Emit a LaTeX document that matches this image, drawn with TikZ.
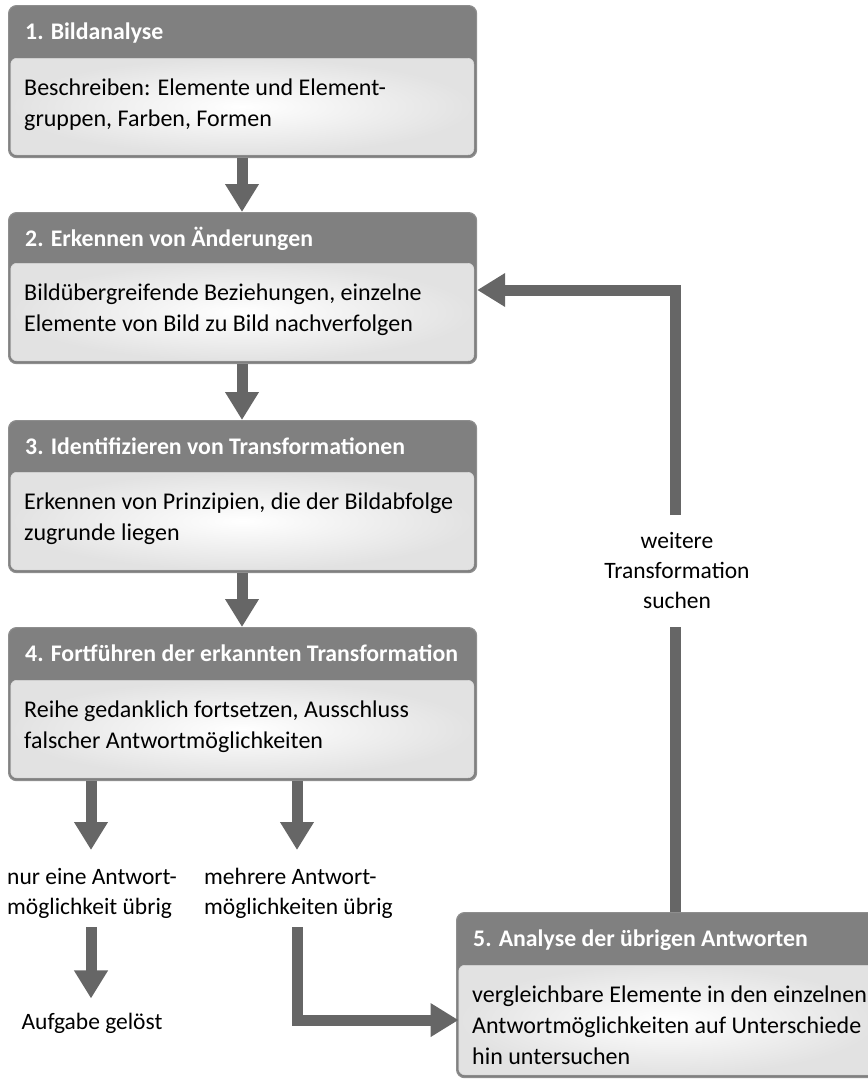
\documentclass[tikz,border=0pt]{standalone}
\usepackage{fontspec}
\setmainfont{Carlito}
\usetikzlibrary{arrows.meta,calc}
\definecolor{hdr}{HTML}{808080}
\definecolor{brd}{HTML}{8E8E8E}
\definecolor{arr}{HTML}{666666}
\definecolor{bodyout}{HTML}{E2E2E2}
\tikzset{
  outerbox/.style={draw=brd, fill=hdr, rounded corners=8pt, line width=1.2pt, inner sep=0pt, anchor=north west},
  bodybox/.style={rounded corners=6pt, inner color=white, outer color=bodyout, draw=white!85!black, line width=0.6pt, inner sep=0pt, anchor=north west},
  titletext/.style={anchor=base west, text=white, font=\fontsize{23.8}{28}\selectfont\bfseries, inner sep=0pt},
  bodytext/.style={anchor=base west, align=left, font=\fontsize{24}{31}\selectfont, inner sep=0pt},
  conn/.style={draw=arr, line width=11pt, -{Triangle[width=32pt,length=28pt]}},
  connline/.style={draw=arr, line width=11pt},
  labeltext/.style={font=\fontsize{23.5}{30}\selectfont, inner sep=0pt}
}
% #1 name, #2 x1, #3 y1, #4 x2, #5 y2, #6 divider y, #7 title, #8 body, #9 number of body lines minus one
\newcommand\mkbox[9]{%
  \node[outerbox, minimum width={(#4-#2)*1pt}, minimum height={(#5-#3)*1pt}] (#1) at (#2,#3) {};
  \node[bodybox, minimum width={(#4-#2-5)*1pt}, minimum height={(#5-#6-2.5)*1pt}] (#1b) at (#2+2.5,#6) {};
  \node[titletext] (#1t) at (#2+17,#3+34) {#7};
  \node[bodytext] (#1x) at (#2+16,#6+37+31*#9) {#8};
}
\begin{document}
\begin{tikzpicture}[x=1pt,y=-1pt]
\useasboundingbox (0,0) rectangle (868,1080);
\clip (0,0) rectangle (868,1080);
\mkbox{b1}{8}{5}{476}{157}{58}{1. Bildanalyse}{Beschreiben: Elemente und Element-\\gruppen, Farben, Formen}{1}
\mkbox{b2}{8}{212}{476}{363}{263}{2. Erkennen von Änderungen}{Bildübergreifende Beziehungen, einzelne\\Elemente von Bild zu Bild nachverfolgen}{1}
\mkbox{b3}{8}{420}{476}{572}{472}{3. Identifizieren von Transformationen}{Erkennen von Prinzipien, die der Bildabfolge\\zugrunde liegen}{1}
\mkbox{b4}{8}{627}{476}{780}{680}{4. Fortführen der erkannten Transformation}{Reihe gedanklich fortsetzen, Ausschluss\\falscher Antwortmöglichkeiten}{1}
\mkbox{b5}{456}{912}{880}{1077}{965}{5. Analyse der übrigen Antworten}{vergleichbare Elemente in den einzelnen\\Antwortmöglichkeiten auf Unterschiede\\hin untersuchen}{2}
% vertical main arrows
\coordinate (ax) at (242,0);
\draw[conn] (b1.south -| ax) -- (b2.north -| ax);
\draw[conn] (b2.south -| ax) -- (b3.north -| ax);
\draw[conn] (b3.south -| ax) -- (b4.north -| ax);
% feedback loop
\node[labeltext, align=center, anchor=base] (wt) at (677,608) {weitere\\Transformation\\suchen};
\coordinate (rx) at (675,0);
\coordinate (ty) at (0,290);
\coordinate (wtop) at (675,515);
\coordinate (wbot) at (675,627);
\draw[connline] (b5.north -| rx) -- (wbot);
\draw[conn] (wtop) -- (wtop |- ty) -- (b2.east |- ty);
% outcome labels
\node[labeltext, align=left, anchor=base west] (l1) at (7,914) {nur eine Antwort-\\möglichkeit übrig};
\node[labeltext, align=left, anchor=base west] (l2) at (204,914) {mehrere Antwort-\\möglichkeiten übrig};
\node[labeltext, anchor=base] (l3) at (92,1029) {Aufgabe gelöst};
\coordinate (lx) at (91,0);
\coordinate (mx) at (297,0);
\coordinate (c1) at (91,850);
\coordinate (c2) at (297,850);
\draw[conn] (b4.south -| lx) -- (c1);
\draw[conn] (b4.south -| mx) -- (c2);
\draw[conn] ($(l1.south -| lx)+(0,9)$) -- ($(l3.north -| lx)+(0,-14)$);
\draw[conn] ($(l2.south -| mx)+(0,9)$) |- (b5b.west);
\end{tikzpicture}
\end{document}
